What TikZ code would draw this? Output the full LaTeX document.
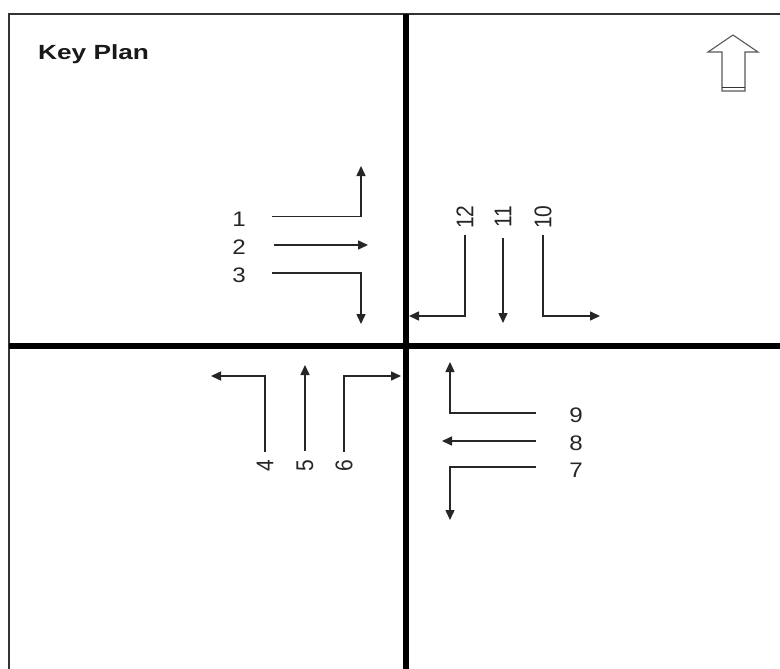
\documentclass[tikz,border=0pt]{standalone}
\usepackage{fontspec}
\usepackage{graphicx}
\setmainfont{Liberation Sans}
\usetikzlibrary{arrows.meta}
\newcommand\hsx[1]{\scalebox{1.15}[1]{#1}}
\newcommand\vsx[1]{\rotatebox{90}{\scalebox{1}[1.15]{#1}}}
\newcommand\tsx[1]{\scalebox{1.28}[1]{#1}}
\begin{document}
\begin{tikzpicture}[x=1pt,y=-1pt,
  lbl/.style={inner sep=0pt, font=\fontsize{21}{21}\selectfont, text=black!85},
  ttl/.style={inner sep=0pt, anchor=west, font=\fontsize{20.5}{20.5}\selectfont\bfseries, text=black!90},
  arr/.style={line width=1.5pt, draw=black!85, -{Triangle[length=10pt,width=9pt]}},
  frame/.style={line width=1.6pt, draw=black!80},
  cross/.style={line width=6pt, draw=black},
  northarrow/.style={line width=1.1pt, draw=black!65, fill=white, line join=miter}]
\useasboundingbox (0,0) rectangle (780,669);
\fill[white] (0,0) rectangle (780,669);
% frame
\coordinate (ftl) at (9,14);
\coordinate (ftr) at (781,14);
\coordinate (fbl) at (9,670);
\draw[frame] (ftr) -- (ftl) -- (fbl);
% thick cross
\coordinate (vt) at (406,14);
\coordinate (vb) at (406,670);
\coordinate (hl) at (9,345.5);
\coordinate (hr) at (781,345.5);
\draw[cross] (vt) -- (vb);
\draw[cross] (hl) -- (hr);
% title
\node[ttl] (title) at (38,54) {\tsx{Key Plan}};
% north arrow
\draw[northarrow] (722,91) -- (722,52) -- (708,52) -- (733,35) -- (758,52) -- (745,52) -- (745,91) -- cycle;
\draw[line width=1.6pt, draw=black!80] (722,87.5) -- (745,87.5);
% labels
\node[lbl] (l1) at (239,219) {\hsx{1}};
\node[lbl] (l2) at (239,247) {\hsx{2}};
\node[lbl] (l3) at (239,275) {\hsx{3}};
\node[lbl] (l12) at (465,217) {\vsx{12}};
\node[lbl] (l11) at (503,217) {\vsx{11}};
\node[lbl] (l10) at (543,217) {\vsx{10}};
\node[lbl] (l4) at (265,466) {\vsx{4}};
\node[lbl] (l5) at (305,466) {\vsx{5}};
\node[lbl] (l6) at (344,466) {\vsx{6}};
\node[lbl] (l9) at (576,415) {\hsx{9}};
\node[lbl] (l8) at (576,443) {\hsx{8}};
\node[lbl] (l7) at (576,470) {\hsx{7}};
% arrow points
\coordinate (a1s) at (272,216.5); \coordinate (a1k) at (361,216.5); \coordinate (a1e) at (361,166);
\coordinate (a2s) at (274,245);   \coordinate (a2e) at (368,245);
\coordinate (a3s) at (272,273);   \coordinate (a3k) at (361,273);   \coordinate (a3e) at (361,324);
\coordinate (a12s) at (465,235); \coordinate (a12k) at (465,316); \coordinate (a12e) at (409,316);
\coordinate (a11s) at (503,238); \coordinate (a11e) at (503,323);
\coordinate (a10s) at (543,235); \coordinate (a10k) at (543,316); \coordinate (a10e) at (600,316);
\coordinate (a4s) at (265,452); \coordinate (a4k) at (265,376); \coordinate (a4e) at (211,376);
\coordinate (a5s) at (305,451); \coordinate (a5e) at (305,365);
\coordinate (a6s) at (344,452); \coordinate (a6k) at (344,376); \coordinate (a6e) at (401,376);
\coordinate (a9s) at (536,413); \coordinate (a9k) at (450,413); \coordinate (a9e) at (450,362);
\coordinate (a8s) at (536,441); \coordinate (a8e) at (442,441);
\coordinate (a7s) at (536,467); \coordinate (a7k) at (450,467); \coordinate (a7e) at (450,520);
% arrows
\draw[arr] (a1s) -- (a1k) -- (a1e);
\draw[arr] (a2s) -- (a2e);
\draw[arr] (a3s) -- (a3k) -- (a3e);
\draw[arr] (a12s) -- (a12k) -- (a12e);
\draw[arr] (a11s) -- (a11e);
\draw[arr] (a10s) -- (a10k) -- (a10e);
\draw[arr] (a4s) -- (a4k) -- (a4e);
\draw[arr] (a5s) -- (a5e);
\draw[arr] (a6s) -- (a6k) -- (a6e);
\draw[arr] (a9s) -- (a9k) -- (a9e);
\draw[arr] (a8s) -- (a8e);
\draw[arr] (a7s) -- (a7k) -- (a7e);
\end{tikzpicture}
\end{document}
